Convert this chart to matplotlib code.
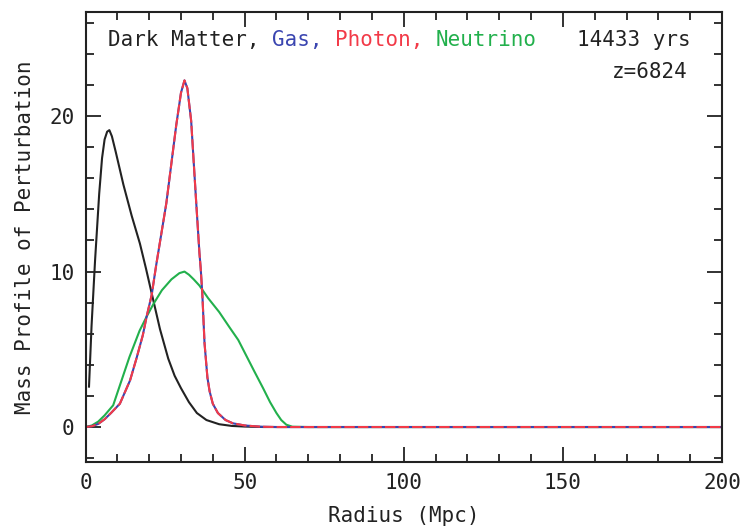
import numpy as np
import matplotlib.pyplot as plt
from matplotlib.ticker import MultipleLocator

# Radius grids (Mpc) and mass profiles for each component
r_dm = [1.1, 1.9, 3.0, 4.3, 5.2, 6.0, 6.8, 7.5, 8.3, 9.5, 11.9, 14.5, 17.1, 19.0, 20.8,
        23.4, 26.0, 28.0, 30.0, 32.5, 35.0, 38.0, 42.0, 46.0, 50.0, 56.0, 200.0]
m_dm = [2.6, 6.5, 10.7, 15.0, 17.3, 18.5, 19.0, 19.1, 18.7, 17.7, 15.6, 13.6, 11.8, 10.2, 8.6,
        6.3, 4.4, 3.3, 2.5, 1.6, 0.9, 0.45, 0.18, 0.07, 0.03, 0.0, 0.0]

r_gas = [0, 2, 4, 6, 8, 10.8, 14.0, 16.0, 18.0, 19.2, 20.8, 22.2, 25.4, 28.5, 30.0,
         31.1, 32.0, 33.2, 34.8, 35.8, 36.2, 36.7, 37.4, 38.3, 39.0, 40.0, 41.6,
         44.0, 46.3, 50.0, 55.0, 60.0, 200.0]
m_gas = [0, 0.05, 0.2, 0.5, 0.9, 1.5, 3.0, 4.4, 5.9, 7.1, 8.5, 10.4, 14.4, 19.4, 21.5,
         22.3, 21.8, 19.7, 14.4, 11.2, 10.2, 8.6, 5.4, 3.2, 2.3, 1.5, 0.9,
         0.45, 0.24, 0.1, 0.02, 0.0, 0.0]

r_nu = [0, 2, 4, 6, 8.7, 11.0, 13.8, 17.0, 19.2, 21.3, 24.0, 27.0, 29.5, 31.1, 32.5,
        34.0, 35.8, 38.5, 42.0, 45.3, 48.0, 50.5, 53.0, 55.8, 58.0, 60.0, 61.5,
        63.1, 65.0, 70.0, 200.0]
m_nu = [0, 0.1, 0.35, 0.75, 1.4, 2.8, 4.5, 6.2, 7.1, 7.9, 8.8, 9.5, 9.9, 10.0, 9.8,
        9.5, 9.1, 8.3, 7.4, 6.4, 5.6, 4.6, 3.6, 2.5, 1.6, 0.9, 0.45,
        0.15, 0.02, 0.0, 0.0]

age_text = "14433 yrs"
z_text = "z=6824"

c_dm = "#222222"
c_gas = "#3a45b0"
c_ph = "#f23a48"
c_nu = "#22b04c"

plt.rcParams['font.family'] = ['DejaVu Sans Mono']
fs = 15

fig = plt.figure(figsize=(7.43, 5.27), dpi=100)
ax = fig.add_axes([85.5/743, 65/527, 636.5/743, 450/527])

ax.plot(r_dm, m_dm, color=c_dm, lw=1.5)
ax.plot(r_nu, m_nu, color=c_nu, lw=1.5)
ax.plot(r_gas, m_gas, color=c_gas, lw=1.5)
ax.plot(r_gas, m_gas, color=c_ph, lw=1.5, dashes=(5, 1.5))

ax.set_xlim(0, 200)
ax.set_ylim(-2.25, 26.7)
ax.xaxis.set_major_locator(MultipleLocator(50))
ax.xaxis.set_minor_locator(MultipleLocator(10))
ax.yaxis.set_major_locator(MultipleLocator(10))
ax.yaxis.set_minor_locator(MultipleLocator(2))
ax.tick_params(which='both', direction='in', top=True, right=True, width=1.3,
               labelsize=fs, colors='#222222')
ax.tick_params(which='major', length=11, pad=8)
ax.tick_params(which='minor', length=5.5)
for sp in ax.spines.values():
    sp.set_linewidth(1.5)
    sp.set_color('#222222')

ax.set_xlabel("Radius (Mpc)", fontsize=fs, color='#222222', labelpad=9)
ax.set_ylabel("Mass Profile of Perturbation", fontsize=fs, color='#222222', labelpad=10)

# coloured legend line, pieces chained one after another
pieces = [("Dark Matter, ", c_dm), ("Gas, ", c_gas), ("Photon, ", c_ph), ("Neutrino", c_nu)]
prev = ax.text(0.035, 0.938, pieces[0][0], color=pieces[0][1], fontsize=fs,
               transform=ax.transAxes, va='center')
for txt, col in pieces[1:]:
    prev = ax.annotate(txt, xy=(1, 0), xycoords=prev, va='bottom', ha='left',
                       color=col, fontsize=fs)

ax.text(0.950, 0.938, age_text, transform=ax.transAxes, ha='right', va='center',
        fontsize=fs, color='#222222')
ax.text(0.946, 0.867, z_text, transform=ax.transAxes, ha='right', va='center',
        fontsize=fs, color='#222222')

fig.savefig("out.png", dpi=100)
